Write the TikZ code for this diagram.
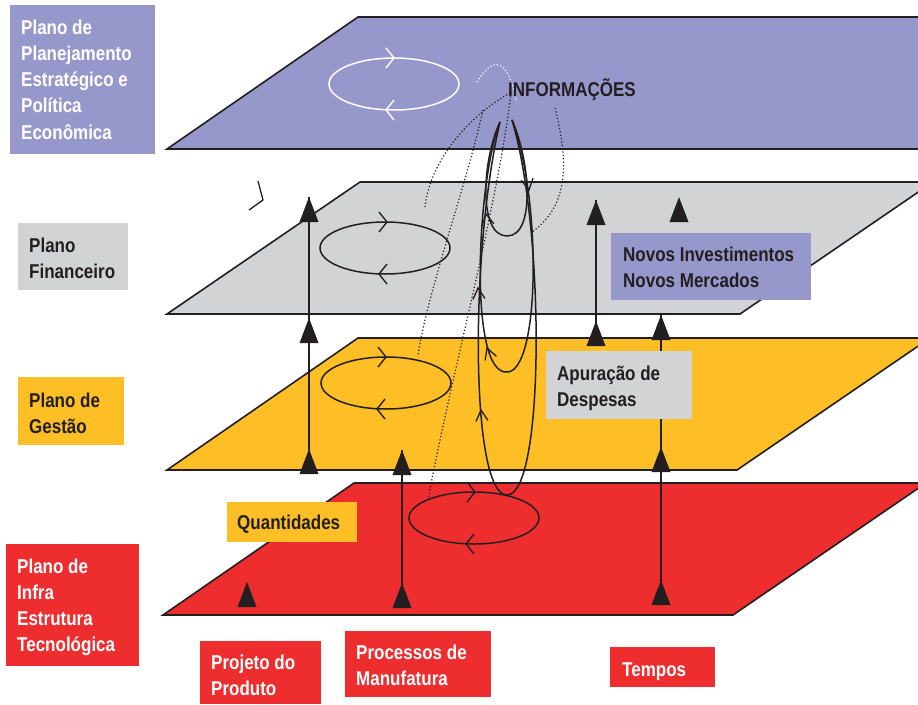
\documentclass[tikz,border=0pt]{standalone}
\usepackage{fontspec}
\setmainfont{Liberation Sans}[FakeStretch=0.85]
\definecolor{ink}{HTML}{231F20}
\definecolor{planpurple}{HTML}{9698CB}
\definecolor{plangrey}{HTML}{D1D3D4}
\definecolor{planyellow}{HTML}{FDBE26}
\definecolor{planred}{HTML}{EE2D2E}
\newcommand\lblfont{\fontsize{20}{26.3}\selectfont\bfseries}
\newcommand\lblstack[1]{\begin{tabular}[t]{@{}l@{}}#1\end{tabular}}
\tikzset{
  plane/.style={draw=ink, line width=1.6pt, line join=miter},
  lbox/.style={rectangle, inner sep=0pt, anchor=north west},
  ltxt/.style={inner sep=0pt, anchor=base west, font=\lblfont},
  flow/.style={draw=ink, line width=1.4pt},
  cycleline/.style={draw=ink, line width=1.5pt},
  dots/.style={draw=ink, line width=1.2pt, dash pattern=on 1.2pt off 2.2pt},
  uptri/.pic={\fill[ink] (-9.5,25) -- (0,0) -- (9.5,25) -- cycle;},
  chev/.pic={\draw[line width=1.4pt] (-8,-10) -- (0,0) -- (-8,10);},
  chevs/.pic={\draw[line width=1.3pt] (-11,-6) -- (0,0) -- (-11,6);},
}
\begin{document}
\begin{tikzpicture}[x=1pt,y=-1pt]
\useasboundingbox (0,0) rectangle (918,704);

% the four stacked planes
\begin{scope}
  \clip (0,0) rectangle (918,704);
  \filldraw[plane, fill=planpurple] (167,149) -- (358,17) -- (950,17) -- (950,149) -- cycle;
  \filldraw[plane, fill=plangrey]   (167,314) -- (360,182) -- (933,182) -- (740,314) -- cycle;
  \filldraw[plane, fill=planyellow] (167,470) -- (358,338) -- (930,338) -- (737,470) -- cycle;
  \filldraw[plane, fill=planred]    (163,615) -- (354,483) -- (926,483) -- (733,615) -- cycle;
\end{scope}

% cycles on each plane
\draw[white, line width=1.5pt] (394,84) ellipse [x radius=65pt, y radius=26pt];
\pic[white] at (394,58) {chev};
\pic[white, rotate=180] at (386,110) {chev};
\draw[cycleline] (385,248) ellipse [x radius=65pt, y radius=26pt];
\pic[ink] at (387,222) {chev};
\pic[ink, rotate=180] at (379,274) {chev};
\draw[cycleline] (386,383) ellipse [x radius=65pt, y radius=26pt];
\pic[ink] at (386,357) {chev};
\pic[ink, rotate=180] at (377,409) {chev};
\draw[cycleline] (474,518) ellipse [x radius=65pt, y radius=26pt];
\pic[ink] at (475,492) {chev};
\pic[ink, rotate=180] at (466,544) {chev};

% nested loops through the planes
\coordinate (loopL) at (500,122);
\coordinate (loopR) at (512,120);
\draw[cycleline] (loopL) .. controls (482,160) and (478,236) .. (507,236)
                 .. controls (536,236) and (530,160) .. (loopR);
\draw[cycleline] (loopL) .. controls (477,180) and (468,375) .. (507,372)
                 .. controls (540,372) and (542,200) .. (loopR);
\draw[cycleline] (loopL) .. controls (470,250) and (470,495) .. (507,495)
                 .. controls (545,495) and (545,230) .. (loopR);
\pic[ink, rotate=100] at (486,214) {chevs};
\pic[ink, rotate=95] at (478,288) {chevs};
\pic[ink, rotate=110] at (487,348) {chevs};
\pic[ink, rotate=95] at (481,410) {chevs};
\pic[ink, rotate=-80] at (529,190) {chevs};

% information flows
\draw[white, line width=1.2pt, dash pattern=on 1.2pt off 2.2pt]
  (477,82) .. controls (488,64) and (506,48) .. (516,100);
\draw[dots] (511,93) .. controls (497,210) and (450,380) .. (428,500);
\draw[dots] (510,93) .. controls (470,115) and (430,160) .. (425,207);
\draw[dots] (483,110) .. controls (465,190) and (428,290) .. (418,355);
\draw[dots] (555,108) .. controls (568,160) and (570,205) .. (532,232);
\node[ltxt, text=ink] (info) at (508,96) {INFORMAÇÕES};

% stray tick beside the grey plane
\draw[ink, line width=1.3pt] (258,181) -- (263,200) -- (249,210);

% vertical links between planes
\coordinate (a1) at (309,197); \coordinate (a2) at (309,318); \coordinate (a3) at (309,449);
\coordinate (a0) at (309,474);
\draw[flow] (a0) -- (a1);
\pic at (a1) {uptri}; \pic at (a2) {uptri}; \pic at (a3) {uptri};

\coordinate (b0) at (402,607); \coordinate (b1) at (402,583); \coordinate (b2) at (402,450);
\draw[flow] (b0) -- (b2);
\pic at (b1) {uptri}; \pic at (b2) {uptri};

\coordinate (c1) at (247,582);
\pic at (c1) {uptri};

\coordinate (d0) at (596,346); \coordinate (d1) at (596,200); \coordinate (d2) at (596,321);
\draw[flow] (d0) -- (d1);
\pic at (d1) {uptri}; \pic at (d2) {uptri};

\coordinate (e0) at (661,605); \coordinate (e1) at (661,580); \coordinate (e2) at (661,447);
\coordinate (e3) at (661,315);
\draw[flow] (e0) -- (e3);
\pic at (e1) {uptri}; \pic at (e2) {uptri}; \pic at (e3) {uptri};

\coordinate (f1) at (679,197);
\pic at (f1) {uptri};

% plane labels
\node[lbox, fill=planpurple, minimum width=145pt, minimum height=149pt] (estrBox) at (10,5) {};
\node[ltxt, text=white] (estr) at (21,34)
  {\lblstack{Plano de\\Planejamento\\Estratégico e\\Política\\Econômica}};
\node[lbox, fill=plangrey, minimum width=110pt, minimum height=67pt] (finBox) at (18,223) {};
\node[ltxt, text=ink] (fin) at (29,252) {\lblstack{Plano\\Financeiro}};
\node[lbox, fill=planyellow, minimum width=106pt, minimum height=68pt] (gestBox) at (18,377) {};
\node[ltxt, text=ink] (gest) at (29,407) {\lblstack{Plano de\\Gestão}};
\node[lbox, fill=planred, minimum width=133pt, minimum height=122pt] (infraBox) at (6,544) {};
\node[ltxt, text=white] (infra) at (17,573)
  {\lblstack{Plano de\\Infra\\Estrutura\\Tecnológica}};

% flow labels
\node[lbox, fill=planyellow, minimum width=130pt, minimum height=40pt] (quantBox) at (227,502) {};
\node[ltxt, text=ink] (quant) at (237,529) {Quantidades};
\node[lbox, fill=planpurple, minimum width=200pt, minimum height=67pt] (novosBox) at (611,233) {};
\node[ltxt, text=ink] (novos) at (623,261) {\lblstack{Novos Investimentos\\Novos Mercados}};
\node[lbox, fill=plangrey, minimum width=146pt, minimum height=68pt] (apurBox) at (546,351) {};
\node[ltxt, text=ink] (apur) at (557,380) {\lblstack{Apuração de\\Despesas}};
\node[lbox, fill=planred, minimum width=121pt, minimum height=63pt] (projBox) at (200,641) {};
\node[ltxt, text=white] (proj) at (211,669) {\lblstack{Projeto do\\Produto}};
\node[lbox, fill=planred, minimum width=146pt, minimum height=66pt] (procBox) at (345,631) {};
\node[ltxt, text=white] (proc) at (356,659) {\lblstack{Processos de\\Manufatura}};
\node[lbox, fill=planred, minimum width=105pt, minimum height=40pt] (tempBox) at (610,647) {};
\node[ltxt, text=white] (temp) at (622,676) {Tempos};
\end{tikzpicture}
\end{document}
